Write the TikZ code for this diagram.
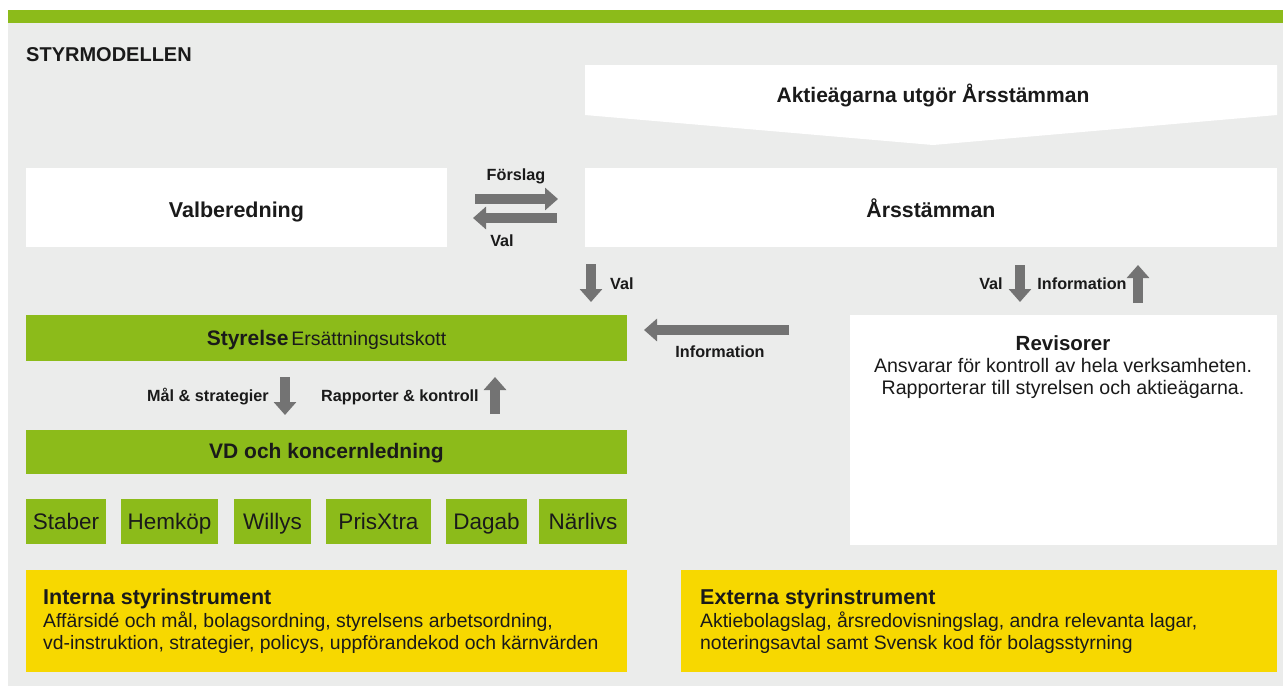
\documentclass[tikz,border=0pt]{standalone}
\usepackage{fontspec}
\setmainfont{Liberation Sans}
\usetikzlibrary{arrows.meta}
\definecolor{bggray}{HTML}{EBECEB}
\definecolor{lime}{HTML}{8CBB1A}
\definecolor{yel}{HTML}{F7D800}
\definecolor{arrgray}{HTML}{737373}
\definecolor{ink}{HTML}{1A1A1A}
\newcommand{\myfs}[2]{\fontsize{#1}{#2}\selectfont}
\tikzset{
  panel/.style={draw=none, inner sep=0pt, outer sep=0pt, anchor=north west, text=ink},
  whitebox/.style={panel, fill=white},
  greenbox/.style={panel, fill=lime},
  yelbox/.style={panel, fill=yel},
  lbl/.style={inner sep=0pt, anchor=base, text=ink, font=\myfs{16.2}{19}\bfseries},
  blockarrow/.style={draw=arrgray, line width=10pt, -{Triangle[length=13pt,width=22pt]}},
  unit/.style={greenbox, minimum height=45pt, font=\myfs{22.5}{26}}
}
\begin{document}
\begin{tikzpicture}[x=1pt,y=-1pt]
\useasboundingbox (0,0) rectangle (1283,686);
% background
\fill[bggray] (8,23) rectangle (1283,686);
\fill[lime] (8,10) rectangle (1283,23);
\node[lbl, anchor=base west, font=\myfs{20}{24}\bfseries] (title) at (26,61) {STYRMODELLEN};
% top banner
\fill[white] (585,65) -- (1277,65) -- (1277,115) -- (933,145) -- (585,115) -- cycle;
\node[lbl, font=\myfs{21}{25}\bfseries] (aktie) at (933,102) {Aktieägarna utgör Årsstämman};
% first row
\node[whitebox, minimum width=421pt, minimum height=79pt, font=\myfs{21.5}{25}\bfseries, text height=20pt, text depth=0pt] (valb) at (26,168) {Valberedning};
\node[whitebox, minimum width=692pt, minimum height=79pt, font=\myfs{21.3}{25}\bfseries, text height=20pt, text depth=0pt] (arss) at (585,168) {Årsstämman};
% arrows between valberedning and arsstamman
\coordinate (f1) at (475,199); \coordinate (f2) at (558,199);
\coordinate (v1) at (557,218); \coordinate (v2) at (473,218);
\draw[blockarrow] (f1) -- (f2);
\draw[blockarrow] (v1) -- (v2);
\node[lbl] (forslag) at (516,180.5) {Förslag};
\node[lbl] (valA) at (502,246.5) {Val};
% Val down to Styrelse
\coordinate (d1) at (591,264); \coordinate (d2) at (591,302);
\draw[blockarrow] (d1) -- (d2);
\node[lbl, anchor=base west] (valB) at (610,289.5) {Val};
% Styrelse
\node[greenbox, minimum width=601pt, minimum height=46pt, text height=14pt, text depth=0pt] (styr) at (26,315)
  {{\myfs{21}{25}\bfseries Styrelse} {\myfs{19.5}{23}Ersättningsutskott}};
% Revisorer
\node[whitebox, minimum width=427pt, minimum height=230pt] (rev) at (850,315) {};
\node[inner sep=0pt, anchor=base, text=ink, font=\myfs{20.5}{24}\bfseries] (revt) at (1063,350) {Revisorer};
\node[inner sep=0pt, anchor=base, text=ink, font=\myfs{19.6}{22}, align=center] (revb) at (1063,394) {Ansvarar för kontroll av hela verksamheten.\\Rapporterar till styrelsen och aktieägarna.};
% Information arrow
\coordinate (i1) at (789,330); \coordinate (i2) at (644,330);
\draw[blockarrow] (i1) -- (i2);
\node[lbl] (infoA) at (720,357.5) {Information};
% Val / Information arrows to Revisorer
\coordinate (r1) at (1020,265); \coordinate (r2) at (1020,302);
\coordinate (u1) at (1138,303); \coordinate (u2) at (1138,265);
\draw[blockarrow] (r1) -- (r2);
\draw[blockarrow] (u1) -- (u2);
\node[lbl] (valC) at (991,289.5) {Val};
\node[lbl] (infoB) at (1082,289.5) {Information};
% Mal & strategier / Rapporter & kontroll
\coordinate (m1) at (285,377); \coordinate (m2) at (285,415);
\coordinate (k1) at (495,414); \coordinate (k2) at (495,377);
\draw[blockarrow] (m1) -- (m2);
\draw[blockarrow] (k1) -- (k2);
\node[lbl] (mal) at (208,401.5) {Mål \& strategier};
\node[lbl] (rapp) at (400,401.5) {Rapporter \& kontroll};
% VD
\node[greenbox, minimum width=601pt, minimum height=44pt, font=\myfs{21}{25}\bfseries, text height=13pt, text depth=0pt] (vd) at (26,430) {VD och koncernledning};
% units
\node[unit, minimum width=80pt, text height=15pt, text depth=0pt] (staber) at (26,499) {Staber};
\node[unit, minimum width=97pt, text height=15pt, text depth=0pt] (hemkop) at (121,499) {Hemköp};
\node[unit, minimum width=77pt, text height=15pt, text depth=0pt] (willys) at (234,499) {Willys};
\node[unit, minimum width=105pt, text height=15pt, text depth=0pt] (prisx) at (326,499) {PrisXtra};
\node[unit, minimum width=81pt, text height=15pt, text depth=0pt] (dagab) at (446,499) {Dagab};
\node[unit, minimum width=88pt, text height=15pt, text depth=0pt] (narl) at (539,499) {Närlivs};
% yellow boxes
\node[yelbox, minimum width=601pt, minimum height=102pt] (intern) at (26,570) {};
\node[yelbox, minimum width=596pt, minimum height=102pt] (extern) at (681,570) {};
\node[inner sep=0pt, anchor=base west, text=ink, font=\myfs{21.5}{25}\bfseries] (intt) at (43,604) {Interna styrinstrument};
\node[inner sep=0pt, anchor=base west, text=ink, font=\myfs{19.4}{22}, align=left] (intb) at (43,649) {Affärsidé och mål, bolagsordning, styrelsens arbetsordning,\\vd-instruktion, strategier, policys, uppförandekod och kärnvärden};
\node[inner sep=0pt, anchor=base west, text=ink, font=\myfs{21.5}{25}\bfseries] (extt) at (700,604) {Externa styrinstrument};
\node[inner sep=0pt, anchor=base west, text=ink, font=\myfs{19.4}{22}, align=left] (extb) at (700,649) {Aktiebolagslag, årsredovisningslag, andra relevanta lagar,\\noteringsavtal samt Svensk kod för bolagsstyrning};
\end{tikzpicture}
\end{document}
